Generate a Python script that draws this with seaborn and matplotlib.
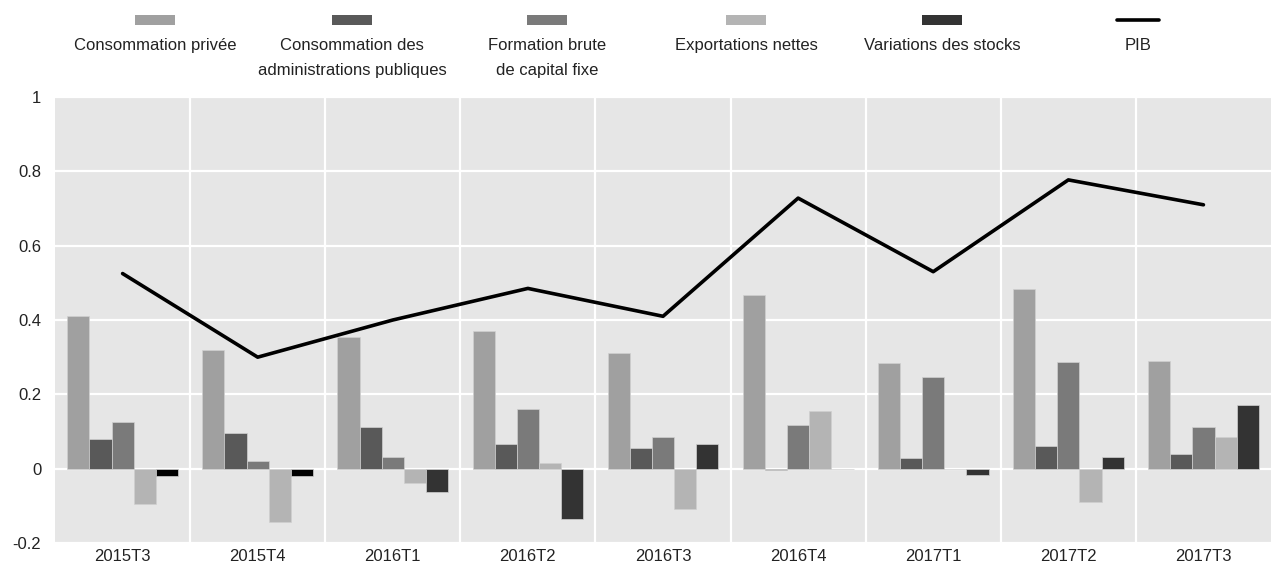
import matplotlib
matplotlib.use("Agg")
import matplotlib.pyplot as plt
import seaborn as sns
import pandas as pd
from matplotlib.patches import Rectangle
from matplotlib.lines import Line2D

quarters = ["2015T3", "2015T4", "2016T1", "2016T2", "2016T3",
            "2016T4", "2017T1", "2017T2", "2017T3"]
series = ["Consommation privée", "Consommation des\nadministrations publiques",
          "Formation brute\nde capital fixe", "Exportations nettes",
          "Variations des stocks"]
conso_privee = [0.41, 0.32, 0.355, 0.37, 0.31, 0.467, 0.285, 0.483, 0.29]
conso_apu = [0.08, 0.095, 0.113, 0.067, 0.055, -0.003, 0.028, 0.062, 0.04]
fbcf = [0.125, 0.02, 0.032, 0.16, 0.085, 0.117, 0.246, 0.286, 0.113]
export_nettes = [-0.095, -0.143, -0.038, 0.016, -0.108, 0.155, -0.002, -0.09, 0.085]
var_stocks = [-0.02, -0.02, -0.062, -0.136, 0.067, 0.0, -0.018, 0.032, 0.172]
pib = [0.525, 0.30, 0.40, 0.485, 0.41, 0.728, 0.53, 0.777, 0.71]

colors = ["#a0a0a0", "#595959", "#7a7a7a", "#b4b4b4", "#333333"]

rows = []
for name, vals in zip(series, [conso_privee, conso_apu, fbcf, export_nettes, var_stocks]):
    for q, v in zip(quarters, vals):
        rows.append({"trimestre": q, "composante": name, "valeur": v})
df = pd.DataFrame(rows)

sns.set_style("white")
plt.rcParams["font.family"] = ["Liberation Sans Narrow", "Liberation Sans", "DejaVu Sans"]

fig = plt.figure(figsize=(12.71, 5.69), dpi=100)
ax = fig.add_axes([0.0433, 0.0457, 0.9567, 0.7838])
ax.set_facecolor("#e6e6e6")

sns.barplot(data=df, x="trimestre", y="valeur", hue="composante", order=quarters,
            hue_order=series, palette=colors, width=0.82, ax=ax,
            edgecolor="#d0d0d0", linewidth=0.5, legend=False, zorder=3)
# the two first stock variations are drawn in black in the original
for i in (0, 1):
    ax.containers[4][i].set_facecolor("black")

sns.lineplot(x=quarters, y=pib, color="black", linewidth=2.6, sort=False, ax=ax, zorder=4)

ax.set_ylim(-0.2, 1.0)
ax.set_xlim(-0.5, len(quarters) - 0.5)
ax.set_yticks([-0.2, 0, 0.2, 0.4, 0.6, 0.8, 1.0])
ax.set_yticklabels(["-0.2", "0", "0.2", "0.4", "0.6", "0.8", "1"])
ax.set_xticks(range(len(quarters)))
ax.set_xticklabels(quarters)
ax.tick_params(axis="both", length=0, labelsize=12, colors="#222222")
ax.tick_params(axis="y", pad=10)
ax.tick_params(axis="x", pad=4)
for y in [-0.2, 0, 0.2, 0.4, 0.6, 0.8, 1.0]:
    ax.axhline(y, color="white", linewidth=1.6, zorder=1)
for x in range(1, len(quarters)):
    ax.axvline(x - 0.5, color="white", linewidth=1.6, zorder=1)
ax.set_xlabel("")
ax.set_ylabel("")
for s in ax.spines.values():
    s.set_visible(False)

# legend: key above its label
leg_x = [155, 352, 547, 746, 942, 1138]
labels = series + ["PIB"]
for i, (cx, lab) in enumerate(zip(leg_x, labels)):
    fx = cx / 1271
    if i < 5:
        fig.add_artist(Rectangle((fx - 20 / 1271, 1 - 25 / 569), 40 / 1271, 10 / 569,
                                 facecolor=colors[i], edgecolor="none",
                                 transform=fig.transFigure))
    else:
        fig.add_artist(Line2D([fx - 21 / 1271, fx + 21 / 1271], [1 - 20 / 569] * 2,
                              color="black", linewidth=2.6, transform=fig.transFigure))
    fig.text(fx, 1 - 38 / 569, lab, ha="center", va="top", fontsize=12,
             color="#222222", linespacing=1.8)

fig.savefig("out.png", dpi=100)
